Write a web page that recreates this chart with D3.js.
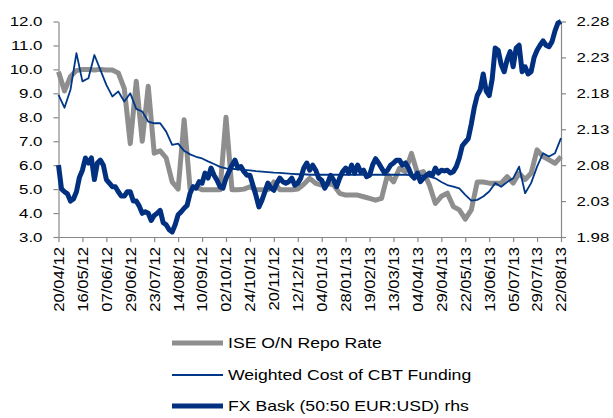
<!DOCTYPE html>
<html>
<head>
<meta charset="utf-8">
<script src="https://cdn.jsdelivr.net/npm/d3@7/dist/d3.min.js"></script>
<style>
  body { margin: 0; background: #fff; }
  text { font-family: Arial, "Liberation Sans", sans-serif; fill: #000; }
</style>
</head>
<body>
<div id="chart"></div>
<script>
// Category labels shown on the x axis (one every 16 business days)
const dateLabels = ["20/04/12", "16/05/12", "07/06/12", "29/06/12", "23/07/12", "14/08/12",
  "10/09/12", "02/10/12", "24/10/12", "20/11/12", "12/12/12", "04/01/13", "28/01/13",
  "19/02/13", "13/03/13", "04/04/13", "29/04/13", "22/05/13", "13/06/13", "05/07/13",
  "29/07/13", "22/08/13"];

// Readings every 4 business days, left axis (%)
const repoRate = [9.9, 9.1, 9.7, 9.95, 10.0, 10.0, 9.97, 10.0, 9.97, 9.97, 9.85, 9.2, 6.9, 9.5, 7.0, 9.3, 6.5, 6.6, 6.3, 5.3,
  5.0, 7.9, 5.0, 5.1, 4.97, 4.97, 4.97, 4.97, 8.0, 4.97, 4.97, 5.0, 5.1, 4.97, 4.97, 4.97, 5.3, 4.97, 4.97, 4.97,
  5.0, 5.2, 5.45, 5.24, 5.17, 5.24, 5.17, 4.82, 4.75, 4.75, 4.75, 4.68, 4.61, 4.54, 4.61, 5.59, 5.3, 5.87, 5.73, 6.49,
  5.66, 5.73, 5.17, 4.4, 4.7, 4.83, 4.27, 4.13, 3.75, 4.13, 5.3, 5.3, 5.25, 5.25, 5.25, 5.52, 5.25, 5.66, 5.4, 5.66,
  6.64, 6.36, 6.22, 6.08, 6.36];

const cbtFunding = [8.94, 8.4, 9.15, 10.68, 9.5, 9.63, 10.6, 9.98, 9.35, 8.87, 9.08, 8.66, 9.0, 8.35, 8.24, 7.82, 7.75, 7.75, 7.4, 6.85,
  6.9, 6.6, 6.45, 6.35, 6.28, 6.16, 6.05, 5.93, 5.87, 5.85, 5.82, 5.8, 5.78, 5.75, 5.73, 5.71, 5.69, 5.68, 5.66, 5.64,
  5.62, 5.62, 5.6, 5.6, 5.6, 5.6, 5.6, 5.6, 5.6, 5.6, 5.6, 5.6, 5.6, 5.6, 5.6, 5.6, 5.6, 5.6, 5.6, 5.59,
  5.58, 5.56, 5.52, 5.45, 5.3, 5.17, 5.1, 5.03, 4.76, 4.52, 4.55, 4.69, 4.9, 5.25, 5.1, 5.3, 5.45, 5.94, 4.83, 5.25,
  5.94, 6.5, 6.36, 6.5, 7.13];

// Readings every 2 business days, right axis
const fxBasket = [2.080, 2.047, 2.043, 2.040, 2.030, 2.033, 2.043, 2.063, 2.073, 2.090, 2.083, 2.090, 2.060, 2.083, 2.087, 2.080, 2.060, 2.055, 2.050, 2.050,
  2.043, 2.037, 2.037, 2.043, 2.043, 2.030, 2.030, 2.023, 2.013, 2.015, 2.013, 2.003, 2.010, 2.013, 2.017, 2.000, 1.997, 1.990, 1.987, 1.997,
  2.011, 2.015, 2.020, 2.024, 2.041, 2.050, 2.048, 2.057, 2.055, 2.069, 2.062, 2.076, 2.066, 2.059, 2.050, 2.048, 2.062, 2.071, 2.080, 2.087,
  2.076, 2.078, 2.071, 2.066, 2.066, 2.052, 2.038, 2.022, 2.031, 2.043, 2.055, 2.048, 2.045, 2.055, 2.062, 2.057, 2.055, 2.057, 2.062, 2.052,
  2.055, 2.062, 2.076, 2.083, 2.073, 2.080, 2.073, 2.062, 2.059, 2.048, 2.055, 2.066, 2.059, 2.050, 2.062, 2.071, 2.076, 2.069, 2.080, 2.069,
  2.080, 2.071, 2.073, 2.064, 2.066, 2.080, 2.089, 2.083, 2.076, 2.069, 2.073, 2.080, 2.083, 2.087, 2.087, 2.080, 2.083, 2.076, 2.066, 2.062,
  2.069, 2.057, 2.062, 2.066, 2.069, 2.066, 2.076, 2.069, 2.073, 2.072, 2.073, 2.069, 2.071, 2.078, 2.090, 2.107, 2.112, 2.117, 2.137, 2.160,
  2.177, 2.185, 2.207, 2.183, 2.177, 2.200, 2.243, 2.240, 2.220, 2.210, 2.227, 2.238, 2.217, 2.243, 2.247, 2.210, 2.217, 2.207, 2.210, 2.230,
  2.240, 2.247, 2.253, 2.247, 2.245, 2.252, 2.267, 2.278, 2.280];

const leftTicks = [3, 4, 5, 6, 7, 8, 9, 10, 11, 12];
const rightTicks = [1.98, 2.03, 2.08, 2.13, 2.18, 2.23, 2.28];
const seriesNames = ["ISE O/N Repo Rate", "Weighted Cost of CBT Funding", "FX Bask (50:50 EUR:USD) rhs"];

const leftStep = 4, fxStep = 2, labelEvery = 16;
const W = 613, H = 418;
const plotLeft = 58.5, plotRight = 561, plotTop = 21.5, plotBottom = 237;
const axisColor = "#888";
const grey = "#8e8e8e", navy = "#003787", navyDark = "#00307f";

const svg = d3.select("#chart").append("svg")
    .attr("width", W)
    .attr("height", H);

const lastIndex = (dateLabels.length - 1) * labelEvery;
const x = d3.scaleLinear().domain([0, lastIndex]).range([plotLeft, plotRight]);
const yL = d3.scaleLinear().domain([3, 12]).range([plotBottom, plotTop]);
const yR = d3.scaleLinear().domain([1.98, 2.28]).range([plotBottom, plotTop]);

// stretch text horizontally a bit, the original font renders wide
function stretch(sel, sx, dx) {
    sel.attr("x", dx / sx).attr("transform", `scale(${sx},1)`);
}

// left axis
const gL = svg.append("g")
    .attr("transform", `translate(${plotLeft},0)`)
    .call(d3.axisLeft(yL).tickValues(leftTicks).tickFormat(d3.format(".1f")).tickSize(5).tickSizeOuter(0));
gL.selectAll("text").style("font-size", "13px").call(stretch, 1.3, -16);

// right axis
const gR = svg.append("g")
    .attr("transform", `translate(${plotRight},0)`)
    .call(d3.axisRight(yR).tickValues(rightTicks).tickFormat(d3.format(".2f")).tickSize(5).tickSizeOuter(0));
gR.selectAll("text").style("font-size", "13px").call(stretch, 1.3, 15.5);

// bottom axis
const gB = svg.append("g")
    .attr("transform", `translate(0,${plotBottom})`)
    .call(d3.axisBottom(x)
        .tickValues(d3.range(0, lastIndex + 1, labelEvery))
        .tickFormat((d, i) => dateLabels[i])
        .tickSize(5).tickSizeOuter(0));
gB.selectAll("text")
    .style("font-size", "14px")
    .attr("text-anchor", "end")
    .attr("y", 0)
    .attr("dy", "0.35em")
    .attr("x", -10 / 1.19)
    .attr("transform", "rotate(-90) scale(1.19,1)");

svg.selectAll(".domain, .tick line").attr("stroke", axisColor).attr("stroke-width", 1.2);

// series
const lineL = d3.line().x((d, i) => x(i * leftStep)).y(d => yL(d));
const lineR = d3.line().x((d, i) => x(i * fxStep)).y(d => yR(d));

svg.append("path").datum(repoRate)
    .attr("d", lineL).attr("fill", "none")
    .attr("stroke", grey).attr("stroke-width", 5).attr("stroke-linejoin", "round");

svg.append("path").datum(cbtFunding)
    .attr("d", lineL).attr("fill", "none")
    .attr("stroke", navy).attr("stroke-width", 1.8).attr("stroke-linejoin", "round");

svg.append("path").datum(fxBasket)
    .attr("d", lineR).attr("fill", "none")
    .attr("stroke", navyDark).attr("stroke-width", 5).attr("stroke-linejoin", "round");

// legend
const legendRows = [
    {name: seriesNames[0], color: grey, w: 5, y: 343},
    {name: seriesNames[1], color: navy, w: 1.8, y: 375},
    {name: seriesNames[2], color: navyDark, w: 5, y: 406},
];
const legend = svg.append("g");
legend.selectAll("line")
    .data(legendRows)
    .join("line")
    .attr("x1", 172).attr("x2", 223)
    .attr("y1", d => d.y).attr("y2", d => d.y)
    .attr("stroke", d => d.color)
    .attr("stroke-width", d => d.w);
legend.selectAll("text")
    .data(legendRows)
    .join("text")
    .attr("y", d => d.y)
    .attr("dy", "0.35em")
    .style("font-size", "15px")
    .text(d => d.name)
    .call(stretch, 1.175, 228);
</script>
</body>
</html>
